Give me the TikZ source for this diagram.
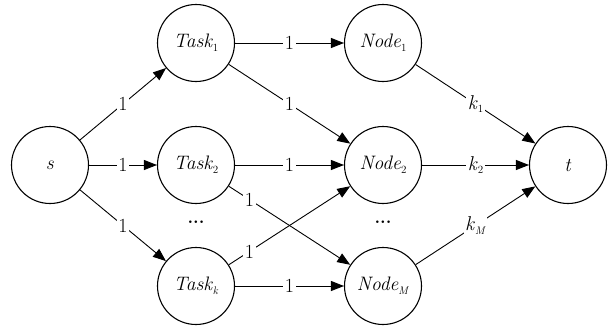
\documentclass[tikz,border=0pt]{standalone}
\usetikzlibrary{arrows.meta}
% lowered small index after a name
\newcommand\idx[1]{\raisebox{-0.45ex}{\fontsize{11}{11}\selectfont #1}}
\begin{document}
\begin{tikzpicture}[x=1pt,y=-1pt,
  vertex/.style={circle,draw,line width=1.1pt,minimum size=77pt,inner sep=0pt,font=\fontsize{19.5}{19.5}\selectfont},
  flow/.style={-{Triangle[length=13pt,width=10pt]},line width=0.9pt},
  weight/.style={fill=white,inner sep=1.5pt,font=\fontsize{20}{20}\selectfont},
  dots/.style={font=\fontsize{18}{18}\selectfont\bfseries}]
\useasboundingbox (0,0) rectangle (612,330);
\node[vertex] (s)  at (50,165)  {\textit{s}};
\node[vertex] (t1) at (196,43)  {\textit{Task}\idx{1}};
\node[vertex] (t2) at (196,165) {\textit{Task}\idx{2}};
\node[vertex] (tk) at (196,286) {\textit{Task}\idx{\textit{k}}};
\node[vertex] (n1) at (383,43)  {\textit{Node}\idx{1}};
\node[vertex] (n2) at (383,165) {\textit{Node}\idx{2}};
\node[vertex] (nm) at (383,286) {\textit{Node}\idx{\textit{M}}};
\node[vertex] (t)  at (568,165) {\textit{t}};
\node[dots] (d1) at (196,222) {...};
\node[dots] (d2) at (383,222) {...};
\draw[flow] (s) -- node[weight] {1} (t1);
\draw[flow] (s) -- node[weight] {1} (t2);
\draw[flow] (s) -- node[weight] {1} (tk);
\draw[flow] (t1) -- node[weight] {1} (n1);
\draw[flow] (t1) -- node[weight] {1} (n2);
\draw[flow] (t2) -- node[weight] {1} (n2);
\draw[flow] (t2) -- node[weight,pos=0.17] {1} (nm);
\draw[flow] (tk) -- node[weight,pos=0.17] {1} (n2);
\draw[flow] (tk) -- node[weight] {1} (nm);
\draw[flow] (n1) -- node[weight] {\textit{k}\idx{1}} (t);
\draw[flow] (n2) -- node[weight] {\textit{k}\idx{2}} (t);
\draw[flow] (nm) -- node[weight] {\textit{k}\idx{\textit{M}}} (t);
\end{tikzpicture}
\end{document}
